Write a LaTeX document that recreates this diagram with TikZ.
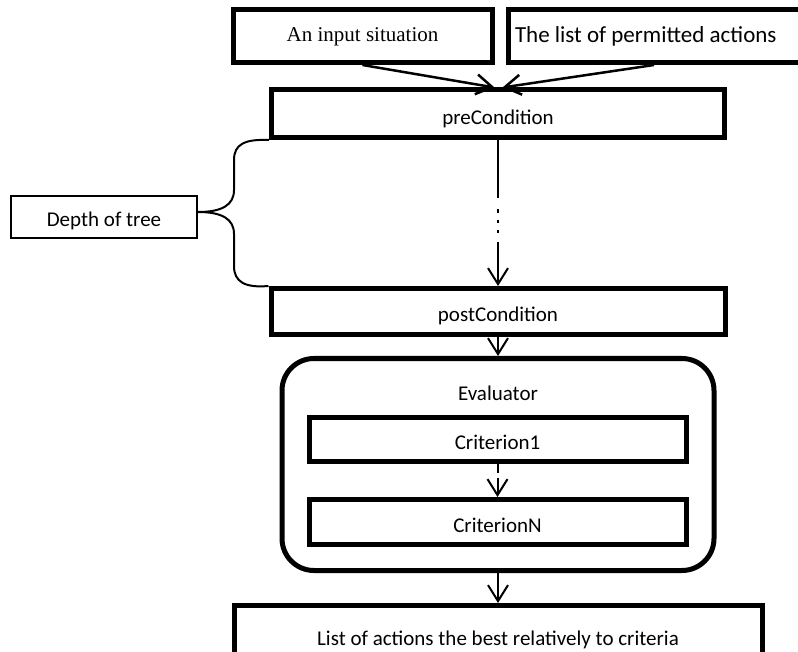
\documentclass[tikz,border=0pt]{standalone}
\usepackage{fontspec}
\setmainfont{Carlito}
\newfontfamily\timesf{Liberation Serif}
\usetikzlibrary{arrows.meta,calc}
\begin{document}
\begin{tikzpicture}[x=1pt,y=-1pt,
  thickbox/.style={draw,line width=5pt,inner sep=0pt,font=\fontsize{21}{25}\selectfont,text height=21pt,text depth=0pt},
  thinbox/.style={draw,line width=2pt,inner sep=0pt,font=\fontsize{21}{25}\selectfont,text height=20pt,text depth=0pt},
  arr/.style={line width=2pt,-{Straight Barb[length=16pt,width=20pt]}},
  brace/.style={line width=2pt},
]
\useasboundingbox (0,0) rectangle (798,652);
% top boxes
\node[thickbox,minimum width=259pt,minimum height=53pt,font=\fontsize{21}{25}\timesf,text height=16pt,text depth=4pt] (in) at (362.5,36) {An input situation};
\node[thickbox,minimum height=53pt,text width=278pt,inner xsep=7pt,align=flush left,font=\fontsize{23}{27}\selectfont,text height=17pt,text depth=3.5pt] (perm) at (654,36) {The list of permitted actions};
% conditions
\node[thickbox,minimum width=453pt,minimum height=47.5pt] (pre) at (498,113.75) {preCondition};
\node[thickbox,minimum width=454pt,minimum height=46pt] (post) at (498,311.5) {postCondition};
% depth of tree
\node[thinbox,minimum width=186pt,minimum height=42pt] (depth) at (104,217) {Depth of tree};
% evaluator
\node[draw,line width=5pt,rounded corners=32pt,minimum width=432pt,minimum height=212pt,inner sep=0pt] (eval) at (498,464.5) {};
\node[anchor=base,font=\fontsize{21}{25}\selectfont,inner sep=0pt] (evlab) at (498,400) {Evaluator};
\node[thickbox,minimum width=377pt,minimum height=44pt] (c1) at (497.5,439) {Criterion1};
\node[thickbox,minimum width=377pt,minimum height=45pt] (cn) at (497.5,522) {CriterionN};
% result
\node[thickbox,minimum width=528pt,minimum height=65pt,text height=14pt] (final) at (498,638) {List of actions the best relatively to criteria};
% connectors
\draw[arr,line width=2.5pt] (in.south) -- ([xshift=-3.5pt]pre.north);
\draw[arr,line width=2.5pt] (perm.south) -- ([xshift=4.5pt]pre.north);
\draw[arr,dash pattern=on 58pt off 11pt on 4pt off 7pt on 3pt off 7pt on 3pt off 9pt on 300pt] (pre.south) -- (post.north);
\draw[arr] (post.south) -- (eval.north);
\draw[arr,dash pattern=on 9pt off 5pt on 100pt] (c1.south) -- (cn.north);
\draw[arr] (eval.south) -- (final.north);
% brace
\coordinate (tip) at ([yshift=5pt]depth.east);
\draw[brace] (pre.south west) .. controls (245,139) and (234,144) .. (234,160) -- (234,190) .. controls (234,205) and (222,212) .. (tip);
\draw[brace] (tip) .. controls (222,212) and (234,219) .. (234,234) -- (234,266) .. controls (234,282) and (245,288) .. (post.north west);
\end{tikzpicture}
\end{document}
